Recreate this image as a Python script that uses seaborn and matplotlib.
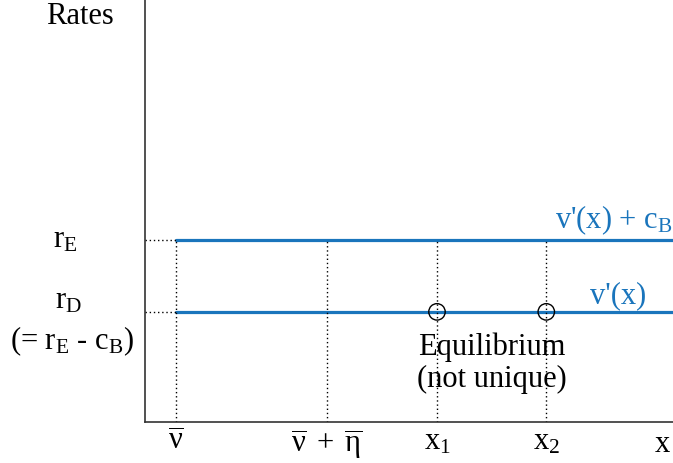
import matplotlib
matplotlib.use('Agg')
import matplotlib.pyplot as plt
import seaborn as sns
import pandas as pd

# positions on the x axis (axis runs 0..10)
x_labels = [r'$\overline{\nu}$', r'$\overline{\nu}\;+\;\overline{\eta}$', 'x$_1$', 'x$_2$']
x_pos = [0.59, 3.45, 5.53, 7.60]
x_end = 10.0

# rate levels (axis runs 0..10)
r_E = 4.31
r_D = 2.61
y_labels = ['r$_\\mathrm{E}$', 'r$_\\mathrm{D}$', '(= r$_\\mathrm{E}$ - c$_\\mathrm{B}$)']

# equilibrium points on v'(x)
eq_x = [5.53, 7.60]

sns.set_style('white')
plt.rcParams['font.family'] = ['Liberation Serif', 'DejaVu Serif']
plt.rcParams['mathtext.fontset'] = 'custom'
plt.rcParams['mathtext.rm'] = 'Liberation Serif'
plt.rcParams['mathtext.it'] = 'Liberation Serif'
plt.rcParams['mathtext.default'] = 'regular'
plt.rcParams['text.color'] = 'black'
plt.rcParams['xtick.color'] = 'black'

blue = '#1a75bc'
fs = 22

fig = plt.figure(figsize=(6.73, 4.63), dpi=100)
ax = fig.add_axes([145 / 673, 41 / 463, 528 / 673, 422 / 463])
ax.set_xlim(0, x_end)
ax.set_ylim(0, 10)

# the two rate lines
lines = pd.DataFrame({
    'x': [x_pos[0], x_end, x_pos[0], x_end],
    'y': [r_E, r_E, r_D, r_D],
    'line': ['upper', 'upper', 'lower', 'lower'],
})
sns.lineplot(data=lines, x='x', y='y', units='line', estimator=None,
             color=blue, linewidth=2.3, ax=ax, clip_on=False)

# dotted guides
dot = dict(color='black', linestyle=(0, (1, 2)), linewidth=1.0)
for r in [r_E, r_D]:
    ax.plot([0, x_pos[0]], [r, r], **dot)
for xp in x_pos:
    ax.plot([xp, xp], [0, r_E], **dot)

# equilibrium circles
sns.scatterplot(x=eq_x, y=[r_D] * len(eq_x), s=140, facecolor='none',
                edgecolor='black', linewidth=1.0, ax=ax, zorder=5)

ax.text(x_end, r_E + 0.08, "v'(x) + c$_\\mathrm{B}$", color=blue, fontsize=fs,
        ha='right', va='bottom')
ax.text(9.5, r_D + 0.05, "v'(x)", color=blue, fontsize=fs, ha='right', va='bottom')
ax.text(sum(eq_x) / 2, r_D - 0.5, 'Equilibrium\n(not unique)', fontsize=fs,
        ha='center', va='top', linespacing=1.12)

# axis labels as text
ax.set_xticks(x_pos)
ax.set_xticklabels(x_labels, fontsize=fs)
ax.set_yticks([])
ax.tick_params(axis='x', length=0, pad=4)
ytr = ax.get_yaxis_transform()
ax.text(-0.152, r_E, y_labels[0], fontsize=fs, ha='center', va='center', transform=ytr)
ax.text(-0.145, r_D + 0.25, y_labels[1], fontsize=fs, ha='center', va='center', transform=ytr)
ax.text(-0.138, r_D - 0.7, y_labels[2], fontsize=fs, ha='center', va='center', transform=ytr)
ax.text(-0.123, 0.995, 'Rates', fontsize=fs, ha='center', va='top',
        transform=ax.transAxes)
ax.text(0.98, -0.02, 'x', fontsize=fs, ha='center', va='top',
        transform=ax.transAxes)

sns.despine(ax=ax)
for s in ['left', 'bottom']:
    ax.spines[s].set_color('#333333')
    ax.spines[s].set_linewidth(1.2)
ax.set_xlabel('')
ax.set_ylabel('')

fig.savefig('out.png', dpi=100)
